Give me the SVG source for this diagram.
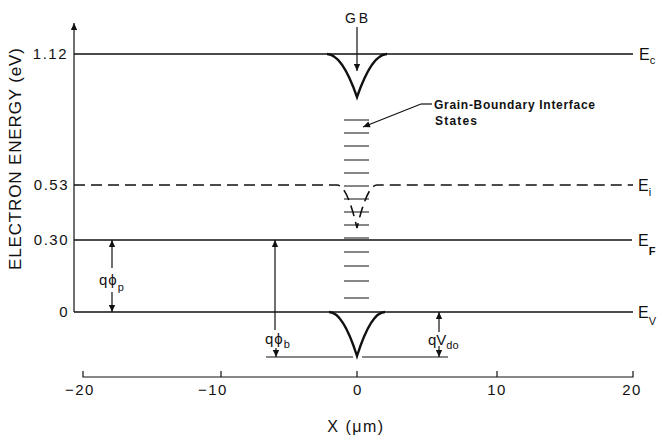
<svg xmlns="http://www.w3.org/2000/svg" width="657" height="436" viewBox="0 0 657 436">
<style>
text{font-family:"Liberation Sans",Arial,sans-serif;fill:#111}
.ln{fill:none;stroke:#111;stroke-width:1.6}
.dip{fill:none;stroke:#111;stroke-width:2.4}
.thin{fill:none;stroke:#111;stroke-width:1.2}
.st{stroke:#111;stroke-width:1.1}
.tk{font-size:15px;letter-spacing:1.5px}
.lab{font-size:16px}
.sub{font-size:11px}
.gb{font-size:12px;font-weight:bold}
</style>
<defs>
<marker id="ah" viewBox="0 0 10 10" refX="10" refY="5" markerWidth="10" markerHeight="7" markerUnits="userSpaceOnUse" orient="auto">
<path d="M0,0.5 L10,5 L0,9.5 Z" fill="#111"/>
</marker>
</defs>
<rect width="657" height="436" fill="#fff"/>

<g id="y-axis">
<line class="thin" x1="74" y1="312" x2="74" y2="23" marker-end="url(#ah)"/>
<text class="tk" x="68" y="59" text-anchor="end" letter-spacing="0">1.12</text>
<text class="tk" x="69" y="190" text-anchor="end">0.53</text>
<text class="tk" x="69" y="245" text-anchor="end">0.30</text>
<text class="tk" x="69" y="317" text-anchor="end">0</text>
<text font-size="17" transform="translate(21,159) rotate(-90)" text-anchor="middle" textLength="222">ELECTRON ENERGY (eV)</text>
</g>

<g id="x-axis">
<path class="thin" d="M83,371 V377 H633 V371 M221,377 V371 M357,377 V371 M497,377 V371"/>
<text class="tk" x="80" y="395" text-anchor="middle">−20</text>
<text class="tk" x="213" y="395" text-anchor="middle">−10</text>
<text class="tk" x="358" y="395" text-anchor="middle">0</text>
<text class="tk" x="497" y="395" text-anchor="middle">10</text>
<text class="tk" x="632" y="395" text-anchor="middle">20</text>
<text font-size="16" x="356" y="432" text-anchor="middle" letter-spacing="1.5">X (μm)</text>
</g>

<g id="band-Ec">
<path class="ln" d="M74,54 H633"/>
<path class="dip" d="M327,54 Q342,54 357,97 Q372,54 387,54"/>
<text class="lab" x="639" y="60">E<tspan class="sub" dy="4">c</tspan></text>
</g>

<g id="band-Ei">
<path class="ln" stroke-dasharray="11,6" stroke-width="1.2" d="M74,185 H337 Q347,185 357,228 Q367,185 377,185 H633"/>
<text class="lab" x="638" y="191">E<tspan class="sub" dy="5">i</tspan></text>
</g>

<g id="band-Ef">
<path class="ln" stroke-width="2.3" d="M74,240 H632"/>
<text class="lab" x="638" y="246">E<tspan class="sub" font-weight="bold" dy="9">F</tspan></text>
</g>

<g id="band-Ev">
<path class="ln" d="M74,312 H633"/>
<path class="dip" d="M329,312 Q343,312 357,356 Q371,312 385,312"/>
<text class="lab" x="638" y="318">E<tspan class="sub" dy="7">V</tspan></text>
</g>

<g id="gb-label">
<text font-size="14" x="358" y="23" text-anchor="middle" letter-spacing="3">GB</text>
</g>

<g id="interface-states">
<path class="st" d="M344,120 H369 M344,133 H369 M344,146 H369 M344,160 H369 M344,173 H369 M344,186 H369 M344,199 H369 M344,212 H369 M344,225 H369 M344,238 H369 M344,252 H369 M344,266 H369 M344,281 H369 M344,298 H369"/>
<text class="gb" x="434" y="109" textLength="161">Grain-Boundary Interface</text>
<text class="gb" x="435" y="125" textLength="42">States</text>
</g>

<g id="label-qphip">
<text font-size="15" x="99" y="285" letter-spacing="1">qϕ<tspan class="sub" font-size="13" dy="6">p</tspan></text>
</g>
<g id="label-qphib">
<text font-size="15" x="265" y="344" letter-spacing="1">qϕ<tspan class="sub" font-size="13" dy="4">b</tspan></text>
</g>
<g id="label-qvdo">
<text font-size="15" x="428" y="345">qV<tspan class="sub" font-size="13" dy="4">do</tspan></text>
</g>

<g id="connectors">
<line class="thin" x1="357" y1="27" x2="357" y2="71" marker-end="url(#ah)"/>
<path class="thin" d="M432,104 H421"/>
<line class="thin" x1="421" y1="104" x2="363" y2="127" marker-end="url(#ah)"/>
<line class="thin" x1="112" y1="268" x2="112" y2="240" marker-end="url(#ah)"/>
<line class="thin" x1="112" y1="292" x2="112" y2="312" marker-end="url(#ah)"/>
<line class="thin" x1="275" y1="330" x2="275" y2="240" marker-end="url(#ah)"/>
<line class="thin" x1="276" y1="348" x2="276" y2="357" marker-end="url(#ah)"/>
<line class="thin" x1="439" y1="332" x2="439" y2="312" marker-end="url(#ah)"/>
<line class="thin" x1="439" y1="346" x2="439" y2="357" marker-end="url(#ah)"/>
<path class="thin" d="M266,357 H353 M362,357 H448"/>
</g>
</svg>
